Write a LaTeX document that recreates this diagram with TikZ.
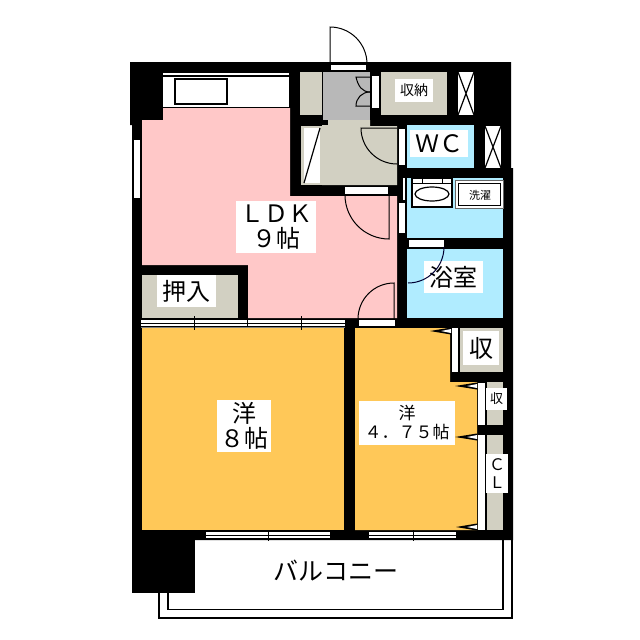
\documentclass[tikz,border=0pt]{standalone}
\usepackage{fontspec}
\setmainfont{Noto Sans CJK JP}
\usepackage{xcolor}
\definecolor{ldkpink}{HTML}{FFC8C8}
\definecolor{roomorange}{HTML}{FFC858}
\definecolor{wetblue}{HTML}{B0ECFF}
\definecolor{floorbeige}{HTML}{D2D0C2}
\definecolor{entrygrey}{HTML}{B8B8B8}
\tikzset{
    wall/.style={fill=black, draw=none},
    room/.style={fill=#1, draw=none},
    pane/.style={fill=white, draw=none},
    door/.style={draw=black, line width=1pt},
    thinline/.style={draw=black, line width=1.2pt},
    tag/.style={fill=white, inner sep=0pt, align=center, font=\fontsize{#1}{#1}\selectfont}
}
\begin{document}
\begin{tikzpicture}[x=1pt, y=-1pt]
    \useasboundingbox[fill=white] (0,0) rectangle (640,640);

    % Walls
    \path[wall] (130,62) -- (511,62) -- (511,168) -- (513,168) -- (513,540) -- (132,540) -- (132,125) -- (130,125) -- cycle;
    \path[wall] (132,540) rectangle (195,593);

    % Rooms
    \path[room=ldkpink] (163,108) -- (290,108) -- (290,196) -- (397,196) -- (397,318) -- (248,318) -- (248,265) -- (142,265) -- (142,120) -- (163,120) -- cycle;
    \path[room=roomorange] (142,328) rectangle (344,530);
    \path[room=roomorange] (355,328) -- (450,328) -- (450,382) -- (477,382) -- (477,530) -- (355,530) -- cycle;
    \path[room=wetblue] (407,125) rectangle (474,168);
    \path[room=wetblue] (407,178) rectangle (503,238);
    \path[room=wetblue] (407,249) rectangle (503,318);
    \path[room=floorbeige] (300,72) rectangle (322,115);
    \path[room=entrygrey] (323,72) rectangle (370,120);
    \path[room=floorbeige] (381,72) rectangle (447,115);
    \path[room=floorbeige] (328,120) -- (370,120) -- (370,126) -- (397,126) -- (397,185) -- (322,185) -- (322,125) -- (328,125) -- cycle;
    \path[room=floorbeige] (301,126) rectangle (322,185);
    \path[room=floorbeige] (142,275) rectangle (238,318);
    \path[room=floorbeige] (460,328) rectangle (503,372);
    \path[room=floorbeige] (487,382) rectangle (503,425);
    \path[room=floorbeige] (487,435) rectangle (503,530);

    % Kitchen
    \path[pane] (163,73) rectangle (289,107);
    \draw[thinline] (163,76) -- (289,76);
    \draw[thinline] (163,107.5) -- (289,107.5);
    \draw[thinline, fill=white] (175,79) rectangle (227,104);

    % Closets with a cross
    \foreach \xa/\ya/\xb/\yb in {458/72/474/115, 485/126/501/168} {
        \path[pane] (\xa,\ya) rectangle (\xb,\yb);
        \draw[thinline] (\xa,\ya) -- (\xb,\yb) (\xa,\yb) -- (\xb,\ya);
    }

    % Shoe cupboard
    \path[pane] (304,128) rectangle (320,183);
    \draw[thinline] (304,183) -- (320,128);

    % Door leaves in the walls
    \foreach \xa/\ya/\xb/\yb in {331/65/366/70, 372/76/379/108, 399/129/405/165, 345/187/388/194, 403/178/405/200, 399/203/405/233, 409/240/444/247, 359/320/395/326, 452/328/458/372, 478/383/485/425, 478/435/485/530, 134/140/140/198} {
        \path[pane] (\xa,\ya) rectangle (\xb,\yb);
    }

    % Door swings
    \draw[door] (330,64) -- (330,27) arc[start angle=-90, end angle=0, radius=37];
    \draw[door] (397,128) -- (361,128) arc[start angle=180, end angle=90, radius=36];
    \draw[door] (345,195) arc[start angle=180, end angle=90, radius=44] -- (389,195);
    \draw[door] (358,319) arc[start angle=180, end angle=270, radius=36] -- (394,319);
    \draw[door] (370,77) -- (356,77) .. controls (358,86) and (362,92) .. (370,92);
    \draw[door] (370,106) -- (356,106) .. controls (356,98) and (362,92) .. (370,92);

    % Sliding door rails
    \path[pane] (141,320) rectangle (345,326);
    \draw[door] (141,319) -- (349,319);
    \draw[door] (141,323) -- (345,323);
    \draw[door, draw=black!50] (141,327) -- (345,327);
    \foreach \xt in {194,301} {
        \draw[door] (\xt,316) -- (\xt,330);
    }
    \draw[door] (247,318) -- (247,327);

    % Balcony windows
    \foreach \xa/\xb/\xt in {206/330/268, 369/456/413} {
        \path[pane] (\xa,532) rectangle (\xb,538);
        \draw[door] (\xa,535) -- (\xb,535);
        \draw[door] (\xt,530) -- (\xt,541);
    }

    % Wedges
    \foreach \xa/\xb/\yt in {430/451/331, 455/477/386, 455/477/437, 456/477/527} {
        \path[wall] (\xb,\yt-3.5) -- (\xa,\yt) -- (\xb,\yt+3.5) -- cycle;
        \path[pane] (\xb,\yt-2) -- (\xb-10,\yt) -- (\xb,\yt+2) -- cycle;
    }

    % Wash room
    \draw[thinline, fill=white] (412,178) rectangle (452,207);
    \draw[door] (412,183) -- (452,183);
    \draw[door] (422,178) -- (422,183) (442,178) -- (442,183);
    \draw[thinline] (432,194) ellipse[x radius=17, y radius=7];
    \draw[door, draw=black!60, fill=white] (455,180) rectangle (503,208);
    \draw[door, fill=white] (458,183) rectangle (500,205);

    % Balcony
    \draw[thinline] (168,593) -- (168,609.5) -- (503,609.5) -- (503,540);
    \draw[thinline] (159,593) -- (159,618) -- (512,618) -- (512,540);

    % Labels
    \node[tag=24, minimum width=80, minimum height=52] (ldk) at (276,227) {ＬＤＫ\\[1pt]９帖};
    \node[tag=24, minimum width=54, minimum height=52] (yo8) at (244,426) {洋\\[1pt]８帖};
    \node[tag=17, minimum width=96, minimum height=44] (yo475) at (407,423) {洋\\[2pt]４．７５帖};
    \node[tag=24, minimum width=59, minimum height=32] (oshiire) at (186.5,291) {押入};
    \node[tag=14, minimum width=38, minimum height=23] (shuno) at (414,90.5) {収納};
    \node[tag=24, minimum width=58, minimum height=27] (wc) at (439,143.5) {ＷＣ};
    \node[tag=11, minimum width=40, minimum height=20] (sentaku) at (480,195) {洗濯};
    \node[tag=24, minimum width=59, minimum height=32] (yokushitsu) at (453,277) {浴室};
    \node[tag=24, minimum width=36, minimum height=34] (shu) at (481,348) {収};
    \node[tag=13, minimum width=21, minimum height=22] (shusmall) at (496.5,399) {収};
    \node[tag=16, minimum width=22, minimum height=39] (cl) at (497,473.5) {Ｃ\\[2pt]Ｌ};
    \node[font=\fontsize{25}{25}\selectfont, inner sep=0pt] (balcony) at (336,571) {バルコニー};

    % Bath door swing runs over its label
    \draw[door, draw=black!80!blue] (444,247) arc[start angle=0, end angle=90, radius=36];
\end{tikzpicture}
\end{document}
